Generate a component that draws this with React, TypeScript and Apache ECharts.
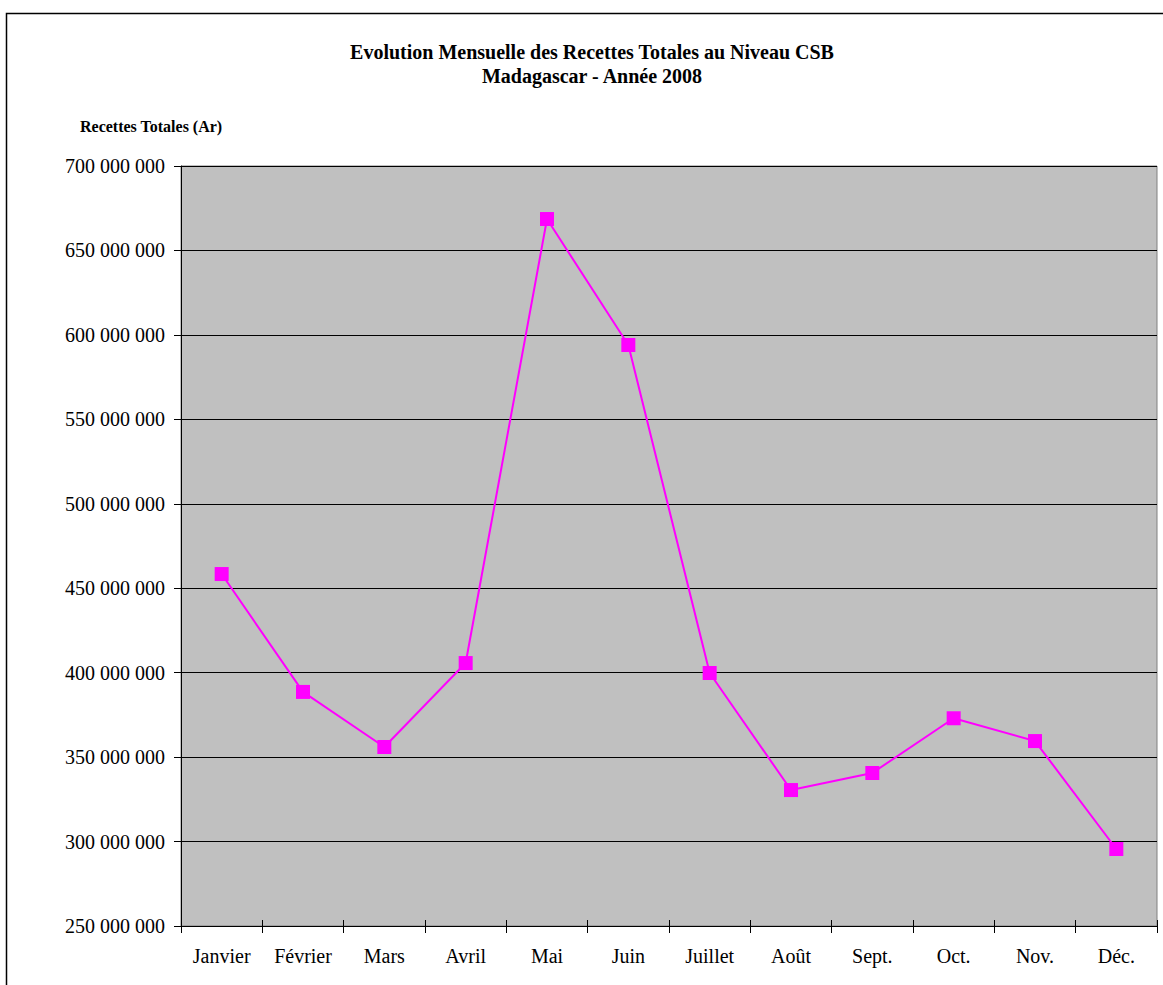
import React, { useEffect, useRef } from "react";
import * as echarts from "echarts";

const months = ["Janvier", "Février", "Mars", "Avril", "Mai", "Juin", "Juillet", "Août", "Sept.", "Oct.", "Nov.", "Déc."];
const recettes = [458400000, 388600000, 356000000, 405700000, 668600000, 594000000, 399800000, 330500000, 340600000, 373000000, 359500000, 295600000];
const titleLines = ["Evolution Mensuelle des Recettes Totales au Niveau CSB", "Madagascar - Année 2008"];
const yAxisTitle = "Recettes Totales (Ar)";

const FONT = "'Liberation Serif', 'Times New Roman', serif";
const Y_MIN = 250000000;
const Y_MAX = 700000000;
const Y_STEP = 50000000;

function fmt(v: number): string {
  return String(Math.round(v)).replace(/\B(?=(\d{3})+(?!\d))/g, " ");
}

export default function App() {
  const ref = useRef<HTMLDivElement>(null);
  useEffect(() => {
    if (!ref.current) return;
    const chart = echarts.init(ref.current, null, { renderer: "svg" });
    chart.setOption({
      animation: false,
      backgroundColor: "#ffffff",
      textStyle: { fontFamily: FONT },
      graphic: [
        {
          type: "rect",
          shape: { x: 6.5, y: 13.5, width: 1170, height: 1000 },
          style: { fill: "none", stroke: "#000", lineWidth: 1.5 },
          z: 100,
        },
        {
          type: "text",
          x: 592,
          y: 52,
          style: {
            text: titleLines[0],
            font: `bold 20px ${FONT}`,
            fill: "#000",
            textAlign: "center",
            textVerticalAlign: "middle",
          },
        },
        {
          type: "text",
          x: 592,
          y: 76,
          style: {
            text: titleLines[1],
            font: `bold 20px ${FONT}`,
            fill: "#000",
            textAlign: "center",
            textVerticalAlign: "middle",
          },
        },
        {
          type: "text",
          x: 80,
          y: 126,
          style: {
            text: yAxisTitle,
            font: `bold 16px ${FONT}`,
            fill: "#000",
            textVerticalAlign: "middle",
          },
        },
      ],
      grid: {
        left: 181,
        top: 166,
        right: 6,
        bottom: 59,
        show: true,
        backgroundColor: "#C0C0C0",
        borderColor: "#808080",
        borderWidth: 1,
      },
      xAxis: [
        {
          type: "category",
          data: months,
          boundaryGap: true,
          axisLine: { lineStyle: { color: "#000", width: 1 } },
          axisTick: { show: true, length: 7, lineStyle: { color: "#000" }, interval: 0 },
          axisLabel: { fontFamily: FONT, fontSize: 20, color: "#000", margin: 20, interval: 0 },
        },
        {
          type: "category",
          data: months,
          position: "bottom",
          boundaryGap: true,
          z: 10,
          axisLine: { show: false },
          axisTick: { show: true, inside: true, length: 6, lineStyle: { color: "#000" }, interval: 0 },
          axisLabel: { show: false },
          splitLine: { show: false },
        },
      ],
      yAxis: [
        {
          type: "value",
          min: Y_MIN,
          max: Y_MAX,
          interval: Y_STEP,
          axisLine: { show: true, lineStyle: { color: "#000", width: 1 } },
          axisTick: { show: true, length: 7, lineStyle: { color: "#000" } },
          axisLabel: { fontFamily: FONT, fontSize: 20, color: "#000", margin: 16, formatter: (v: number) => fmt(v) },
          splitLine: { show: true, lineStyle: { color: "#000", width: 1 } },
        },
        {
          type: "value",
          position: "left",
          min: Y_MIN,
          max: Y_MAX,
          interval: Y_STEP,
          z: 10,
          axisLine: { show: false },
          axisTick: { show: true, inside: true, length: 6, lineStyle: { color: "#000" } },
          axisLabel: { show: false },
          splitLine: { show: false },
        },
      ],
      series: [
        {
          type: "line",
          data: recettes,
          symbol: "rect",
          symbolSize: 14,
          z: 20,
          itemStyle: { color: "#FF00FF" },
          lineStyle: { color: "#FF00FF", width: 2 },
        },
      ],
    });
    return () => chart.dispose();
  }, []);
  return <div ref={ref} style={{ position: "absolute", left: 0, top: 0, width: 1163, height: 985 }} />;
}
